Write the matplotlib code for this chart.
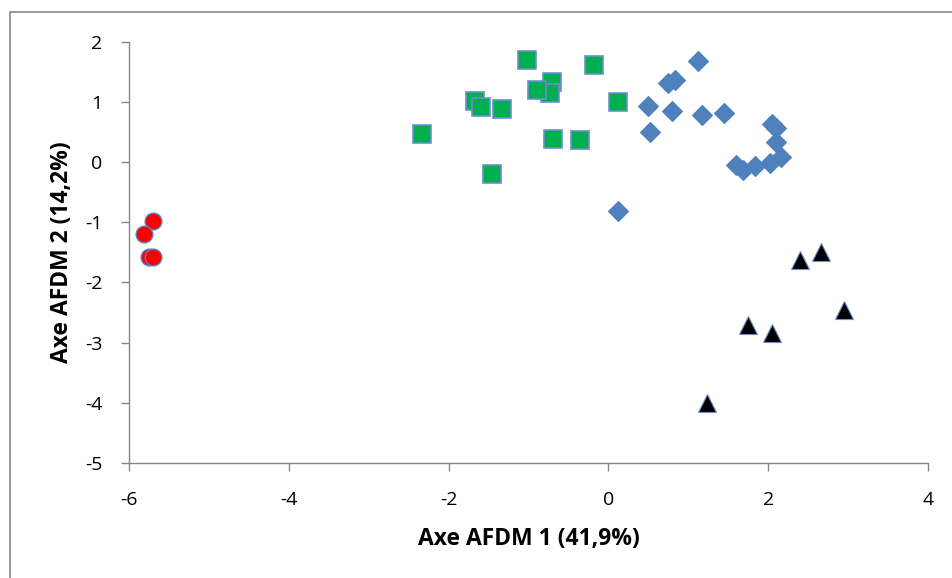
import matplotlib.pyplot as plt
from matplotlib.patches import Rectangle

# Data
blue_x = [1.12, 0.75, 0.83, 0.49, 0.80, 1.17, 1.45, 0.52, 0.12, 2.04, 2.10, 2.09, 2.16, 1.60, 1.68, 1.83, 2.02]
blue_y = [1.68, 1.31, 1.36, 0.93, 0.85, 0.79, 0.82, 0.50, -0.82, 0.63, 0.57, 0.34, 0.09, -0.05, -0.13, -0.07, -0.01]

green_x = [-2.33, -1.67, -1.59, -1.33, -1.46, -1.02, -0.71, -0.73, -0.89, -0.69, -0.35, -0.18, 0.12]
green_y = [0.47, 1.02, 0.91, 0.89, -0.20, 1.69, 1.33, 1.14, 1.20, 0.39, 0.36, 1.61, 0.99]

red_x = [-5.70, -5.81, -5.75, -5.69]
red_y = [-0.98, -1.19, -1.58, -1.57]

black_x = [2.40, 2.66, 2.95, 1.75, 2.05, 1.23]
black_y = [-1.63, -1.49, -2.46, -2.71, -2.84, -4.01]

x_label = 'Axe AFDM 1 (41,9%)'
y_label = 'Axe AFDM 2 (14,2%)'

plt.rcParams['font.family'] = ['Open Sans', 'DejaVu Sans']
plt.rcParams['axes.unicode_minus'] = False

W, H = 952, 578
fig = plt.figure(figsize=(W / 100, H / 100), dpi=100)
ax = fig.add_axes([128.7 / W, 1 - 463 / H, (928.3 - 128.7) / W, (463 - 41.7) / H])

edge = '#5a7fc0'
ax.plot(blue_x, blue_y, 'D', ms=10.5, color='#4F81BD', mec='#4F81BD', mew=0.8, zorder=3)
ax.plot(green_x, green_y, 's', ms=12.5, color='#00B050', mec='#6f8fcf', mew=1.2, zorder=3)
ax.plot(red_x, red_y, 'o', ms=12, color='#FF0000', mec=edge, mew=1.0, zorder=3)
ax.plot(black_x, black_y, '^', ms=12.5, color='#000000', mec='#6f8fcf', mew=0.8, zorder=3)

ax.set_xlim(-6, 4)
ax.set_ylim(-5, 2)
ax.set_xticks(range(-6, 5, 2))
ax.set_yticks(range(-5, 3, 1))

for side in ['top', 'right']:
    ax.spines[side].set_visible(False)
for side in ['left', 'bottom']:
    ax.spines[side].set_color('#868686')
    ax.spines[side].set_linewidth(1.0)

ax.tick_params(axis='both', direction='out', length=6, width=1, color='#868686',
               labelsize=14, labelcolor='#000000')
ax.tick_params(axis='x', pad=14)
ax.tick_params(axis='y', pad=13)

ax.set_xlabel(x_label, fontsize=16.5, fontweight='bold', labelpad=13)
ax.set_ylabel(y_label, fontsize=16.5, fontweight='bold', labelpad=8)

# outer chart frame
fig.add_artist(Rectangle((9.5 / W, -0.1), 2, 1 - 12.5 / H + 0.1, transform=fig.transFigure,
                         fill=False, ec='#868686', lw=1.2))

plt.savefig('out.png', dpi=100)
